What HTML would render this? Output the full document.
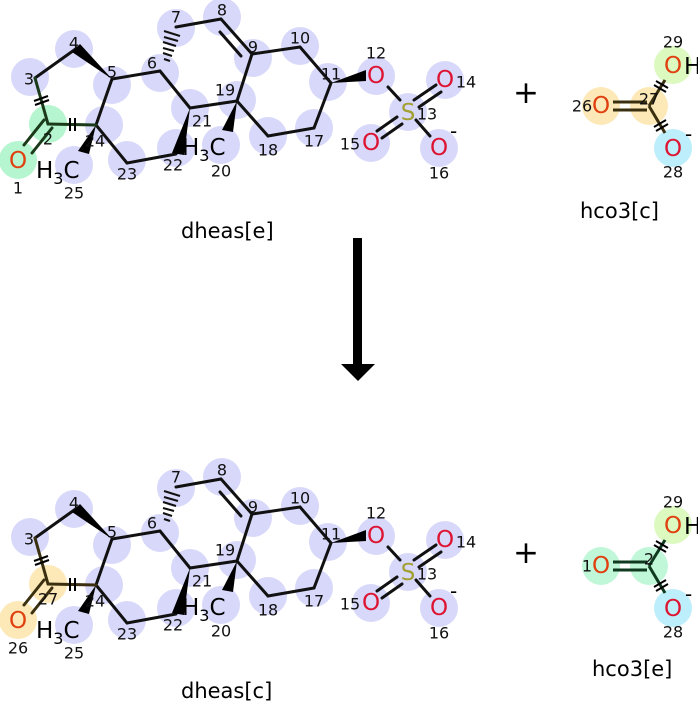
<!DOCTYPE html>
<html><head><meta charset="utf-8"><style>
html,body{margin:0;padding:0;background:#fff;width:698px;height:701px;overflow:hidden}
svg{display:block}
text{font-family:"DejaVu Sans","Liberation Sans",sans-serif}
.n{font-size:16px;fill:#111;text-anchor:middle;dominant-baseline:central}
.a{font-size:23px;text-anchor:middle;dominant-baseline:central}
.r{fill:#dd1533}.o{fill:#e04010}.s{fill:#a3a032}
.lbl{font-size:21px;fill:#000}
</style></head><body>
<svg width="698" height="701" viewBox="0 0 698 701" xmlns="http://www.w3.org/2000/svg">
<defs>
<g id="circ" fill="#d8d8fa">
<circle cx="30" cy="77" r="19"/><circle cx="74" cy="49" r="19"/><circle cx="112" cy="85" r="19"/>
<circle cx="160" cy="73" r="19"/><circle cx="176" cy="28" r="19"/><circle cx="222" cy="17" r="19"/>
<circle cx="253" cy="58" r="19"/><circle cx="300" cy="46" r="19"/><circle cx="328" cy="82" r="19"/>
<circle cx="376" cy="76" r="19"/><circle cx="408" cy="112" r="19"/><circle cx="445" cy="80" r="19"/>
<circle cx="371" cy="143" r="19"/><circle cx="439" cy="148" r="19"/><circle cx="314" cy="128" r="19"/>
<circle cx="268" cy="136" r="19"/><circle cx="237" cy="100" r="19"/><circle cx="190" cy="108" r="19"/>
<circle cx="176" cy="148" r="19"/><circle cx="127" cy="160" r="19"/><circle cx="104" cy="125" r="19"/>
<circle cx="74" cy="165" r="19"/><circle cx="221" cy="145" r="19"/>
</g>
<g id="bonds" stroke="#111" stroke-width="3" fill="none" stroke-linecap="round">
<line x1="35" y1="78" x2="77" y2="48"/>
<line x1="96" y1="125" x2="112" y2="79"/>
<line x1="112" y1="79" x2="160" y2="71"/>
<line x1="176" y1="27" x2="221" y2="19"/>
<line x1="221" y1="19" x2="252" y2="54"/>
<line x1="220" y1="32" x2="241" y2="56"/>
<line x1="252" y1="54" x2="300" y2="47"/>
<line x1="300" y1="47" x2="331" y2="83"/>
<line x1="331" y1="83" x2="314" y2="128"/>
<line x1="314" y1="128" x2="268" y2="136"/>
<line x1="268" y1="136" x2="237" y2="101"/>
<line x1="237" y1="101" x2="252" y2="54"/>
<line x1="237" y1="101" x2="190" y2="108"/>
<line x1="190" y1="108" x2="160" y2="71"/>
<line x1="176" y1="154" x2="127" y2="163"/>
<line x1="127" y1="163" x2="96" y2="125"/>
<line x1="388" y1="87" x2="400" y2="100"/>
<line x1="416" y1="120" x2="430" y2="136"/>
<line x1="414" y1="100" x2="436" y2="85"/><line x1="419" y1="107" x2="441" y2="92"/>
<line x1="397" y1="117" x2="377" y2="131"/><line x1="402" y1="124" x2="382" y2="138"/>
<g stroke-width="2" stroke-linecap="butt">
<line x1="170" y1="61" x2="164" y2="59"/><line x1="172" y1="56" x2="163" y2="53"/>
<line x1="174" y1="51" x2="163" y2="48"/><line x1="176" y1="46" x2="163" y2="42"/>
<line x1="178" y1="41" x2="164" y2="37"/><line x1="180" y1="36" x2="164" y2="31"/>
</g>
</g>
<g id="wedges" fill="#000">
<polygon points="112,79 72,52 80,44"/>
<polygon points="190,108 172,153 184,155"/>
<polygon points="237,101 222,130 233,132"/>
<polygon points="96,125 78,151 89,154"/>
<polygon points="331,83 366,70 366,81"/>
</g>
</defs>

<!-- TOP -->
<use href="#circ"/>
<circle cx="48" cy="124" r="19" fill="#b5f5cf"/><circle cx="18" cy="160" r="19" fill="#b5f5cf"/>
<use href="#bonds"/><use href="#wedges"/>
<g stroke="#1a3a1a" stroke-width="3" stroke-linecap="round" fill="none">
<line x1="35" y1="78" x2="48" y2="124"/><line x1="48" y1="124" x2="96" y2="125"/>
<line x1="44" y1="120" x2="24" y2="145"/><line x1="52" y1="128" x2="32" y2="153"/>
</g>
<g stroke="#000" stroke-width="2"><line x1="35" y1="105" x2="49" y2="100"/><line x1="34" y1="101" x2="48" y2="96"/>
<line x1="70" y1="118" x2="70" y2="131"/><line x1="75" y1="118" x2="75" y2="131"/></g>
<text class="a o" x="18" y="161">O</text>
<text class="a r" x="376" y="76">O</text><text class="a s" x="408" y="113">S</text>
<text class="a r" x="445" y="80">O</text><text class="a r" x="371" y="143">O</text>
<text class="a r" x="439" y="148">O</text><text x="450" y="138" style="font-size:20px">-</text>
<text x="36" y="178" style="font-size:23px">H<tspan font-size="16" dy="6">3</tspan><tspan dy="-6">C</tspan></text>
<text x="182" y="155" style="font-size:23px">H<tspan font-size="16" dy="6">3</tspan><tspan dy="-6">C</tspan></text>
<text class="n" x="18" y="188">1</text><text class="n" x="48" y="139">2</text><text class="n" x="29" y="79">3</text>
<text class="n" x="74" y="43">4</text><text class="n" x="112" y="72">5</text><text class="n" x="152" y="63">6</text>
<text class="n" x="176" y="17">7</text><text class="n" x="222" y="10">8</text><text class="n" x="253" y="47">9</text>
<text class="n" x="300" y="38">10</text><text class="n" x="331" y="74">11</text><text class="n" x="376" y="53">12</text>
<text class="n" x="427" y="114">13</text><text class="n" x="466" y="82">14</text><text class="n" x="350" y="144">15</text>
<text class="n" x="439" y="173">16</text><text class="n" x="314" y="141">17</text><text class="n" x="268" y="150">18</text>
<text class="n" x="225" y="90">19</text><text class="n" x="221" y="171">20</text><text class="n" x="202" y="121">21</text>
<text class="n" x="173" y="165">22</text><text class="n" x="127" y="174">23</text><text class="n" x="95" y="141">24</text>
<text class="n" x="74" y="193">25</text>
<text class="lbl" x="181" y="238">dheas[e]</text>
<text x="513" y="103" style="font-size:31px">+</text>
<circle cx="601" cy="106" r="19" fill="#fde9b8"/><circle cx="649" cy="106" r="19" fill="#fde9b8"/>
<circle cx="673" cy="65" r="19" fill="#dcf9c0"/><circle cx="673" cy="148" r="19" fill="#bdeefb"/>
<g stroke="#3a3010" stroke-width="3"><line x1="613" y1="102" x2="647" y2="102"/><line x1="613" y1="110" x2="647" y2="110"/>
<line x1="649" y1="106" x2="665" y2="80"/><line x1="649" y1="106" x2="665" y2="133"/></g>
<g stroke="#000" stroke-width="2"><line x1="654" y1="85" x2="666" y2="92"/><line x1="656" y1="81" x2="668" y2="88"/>
<line x1="654" y1="127" x2="666" y2="120"/><line x1="656" y1="131" x2="668" y2="124"/></g>
<text class="a o" x="673" y="66">O</text><text class="a o" x="601" y="106">O</text><text x="684" y="74" style="font-size:23px">H</text>
<text class="a r" x="673" y="149">O</text><text x="685" y="141" style="font-size:20px">-</text>
<text class="n" x="582" y="106">26</text><text class="n" x="649" y="99">27</text><text class="n" x="673" y="42">29</text><text class="n" x="673" y="172">28</text>
<text class="lbl" x="580" y="218">hco3[c]</text>

<!-- ARROW -->
<rect x="353" y="238" width="9" height="127" fill="#000"/>
<polygon points="341,364 375,364 358,381" fill="#000"/>

<!-- BOTTOM -->
<g transform="translate(0,460)">
<use href="#circ"/>
<circle cx="48" cy="124" r="19" fill="#fde9b8"/><circle cx="18" cy="160" r="19" fill="#fde9b8"/>
<use href="#bonds"/><use href="#wedges"/>
<g stroke="#3a3010" stroke-width="3" stroke-linecap="round" fill="none">
<line x1="35" y1="78" x2="48" y2="124"/><line x1="48" y1="124" x2="96" y2="125"/>
<line x1="44" y1="120" x2="24" y2="145"/><line x1="52" y1="128" x2="32" y2="153"/>
</g>
<g stroke="#000" stroke-width="2"><line x1="35" y1="105" x2="49" y2="100"/><line x1="34" y1="101" x2="48" y2="96"/>
<line x1="70" y1="118" x2="70" y2="131"/><line x1="75" y1="118" x2="75" y2="131"/></g>
<text class="a o" x="18" y="161">O</text>
<text class="a r" x="376" y="76">O</text><text class="a s" x="408" y="113">S</text>
<text class="a r" x="445" y="80">O</text><text class="a r" x="371" y="143">O</text>
<text class="a r" x="439" y="148">O</text><text x="450" y="138" style="font-size:20px">-</text>
<text x="36" y="178" style="font-size:23px">H<tspan font-size="16" dy="6">3</tspan><tspan dy="-6">C</tspan></text>
<text x="182" y="155" style="font-size:23px">H<tspan font-size="16" dy="6">3</tspan><tspan dy="-6">C</tspan></text>
<text class="n" x="18" y="188">26</text><text class="n" x="48" y="139">27</text><text class="n" x="29" y="79">3</text>
<text class="n" x="74" y="43">4</text><text class="n" x="112" y="72">5</text><text class="n" x="152" y="63">6</text>
<text class="n" x="176" y="17">7</text><text class="n" x="222" y="10">8</text><text class="n" x="253" y="47">9</text>
<text class="n" x="300" y="38">10</text><text class="n" x="331" y="74">11</text><text class="n" x="376" y="53">12</text>
<text class="n" x="427" y="114">13</text><text class="n" x="466" y="82">14</text><text class="n" x="350" y="144">15</text>
<text class="n" x="439" y="173">16</text><text class="n" x="314" y="141">17</text><text class="n" x="268" y="150">18</text>
<text class="n" x="225" y="90">19</text><text class="n" x="221" y="171">20</text><text class="n" x="202" y="121">21</text>
<text class="n" x="173" y="165">22</text><text class="n" x="127" y="174">23</text><text class="n" x="95" y="141">24</text>
<text class="n" x="74" y="193">25</text>
<text class="lbl" x="181" y="238">dheas[c]</text>
<text x="513" y="103" style="font-size:31px">+</text>
<circle cx="601" cy="106" r="19" fill="#bff7d8"/><circle cx="649" cy="106" r="19" fill="#bff7d8"/>
<circle cx="673" cy="65" r="19" fill="#dcf9c0"/><circle cx="673" cy="148" r="19" fill="#bdeefb"/>
<g stroke="#103a20" stroke-width="3"><line x1="613" y1="102" x2="647" y2="102"/><line x1="613" y1="110" x2="647" y2="110"/>
<line x1="649" y1="106" x2="665" y2="80"/><line x1="649" y1="106" x2="665" y2="133"/></g>
<g stroke="#000" stroke-width="2"><line x1="654" y1="85" x2="666" y2="92"/><line x1="656" y1="81" x2="668" y2="88"/>
<line x1="654" y1="127" x2="666" y2="120"/><line x1="656" y1="131" x2="668" y2="124"/></g>
<text class="a o" x="673" y="66">O</text><text class="a o" x="601" y="106">O</text><text x="684" y="74" style="font-size:23px">H</text>
<text class="a r" x="673" y="149">O</text><text x="685" y="141" style="font-size:20px">-</text>
<text class="n" x="587" y="106">1</text><text class="n" x="649" y="99">2</text><text class="n" x="673" y="42">29</text><text class="n" x="673" y="172">28</text>
<text class="lbl" x="592" y="216">hco3[e]</text>
</g>
</svg>
</body></html>
